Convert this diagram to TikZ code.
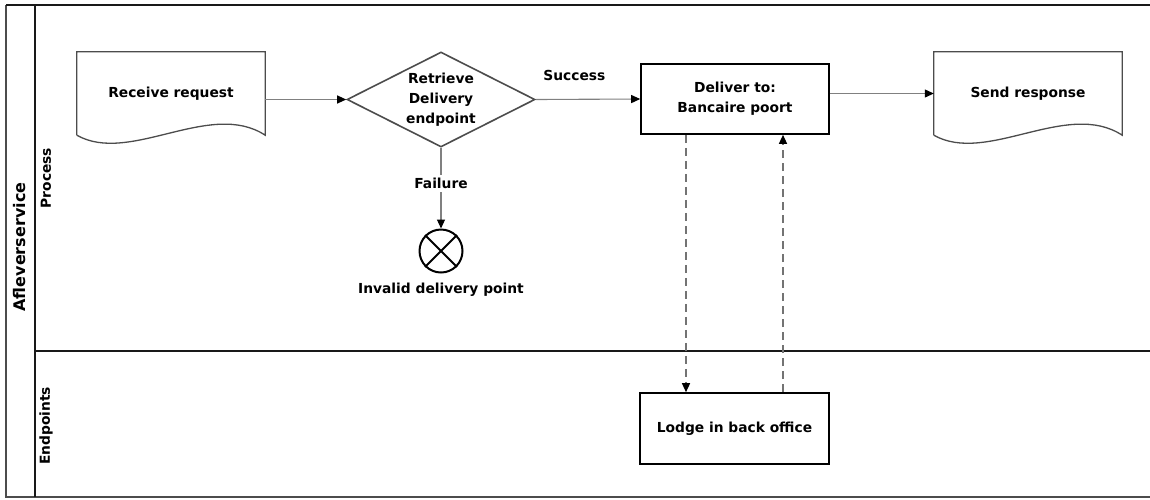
\documentclass[tikz,border=0pt]{standalone}
\usepackage{fontspec}
\setmainfont{DejaVu Sans}
\usetikzlibrary{shapes.geometric,arrows.meta,positioning}

\tikzset{
  lbl/.style={inner sep=0pt, font=\bfseries\fontsize{13.8}{20}\selectfont},
  docnode/.style={lbl, minimum width=188pt, minimum height=83pt},
  docline/.style={draw=black!70, line width=1.3pt},
  decision/.style={lbl, diamond, aspect=2, draw=black!70, line width=1.6pt, minimum width=188pt, minimum height=95pt, align=center},
  task/.style={lbl, draw=black, line width=1.6pt, minimum width=188pt, minimum height=70pt, align=center},
  endev/.style={circle, draw=black, line width=2pt, minimum size=43pt, inner sep=0pt},
  flow/.style={draw=black!50, line width=1.1pt, -{Triangle[length=9pt,width=8pt,color=black]}},
  msg/.style={flow, draw=black!55, line width=1.3pt, dash pattern=on 8pt off 5pt},
  pool/.style={line width=1.8pt, draw=black!90}
}

\begin{document}
\begin{tikzpicture}[x=1pt,y=-1pt]
	\useasboundingbox (0,0) rectangle (1150,499);
	\begin{scope}
	  % pool e lanes
	  \draw[line width=1.3pt, draw=black!70] (6,5) -- (6,497) -- (1150,497);
	  \draw[pool] (6,5) -- (1150,5);
	  \draw[pool] (35,5) -- (35,497);
	  \draw[pool] (35,351) -- (1150,351);
	  \node[lbl, font=\bfseries\fontsize{16}{18}\selectfont, rotate=90] (pooltitle) at (20,247) {Afleverservice};
	  \node[lbl, rotate=90] (laneproc) at (46,178) {Process};
	  \node[lbl, rotate=90] (laneend) at (46,426) {Endpoints};

	  \node[docnode] (recv) at (171,93.5) {Receive request};
	  \node[decision] (dia) at (441,99.5) {Retrieve\\Delivery\\endpoint};
	  \node[task] (deliver) at (735,99) {Deliver to:\\Bancaire poort};
	  \node[docnode] (send) at (1028,93.5) {Send response};
	  \node[endev] (fail) at (441,251) {};
	  \node[lbl, below=9pt of fail] (faillbl) {Invalid delivery point};
	  \node[task, minimum width=189pt, minimum height=71pt] (lodge) at (734.5,428.5) {Lodge in back office};

	  % documenti con bordo ondulato
	  \foreach \d in {recv,send}
	    \draw[docline] (\d.south west) -- (\d.north west) -- (\d.north east) -- (\d.south east)
	      .. controls +(-55,-36) and +(53,30) .. (\d.south west);

	  \draw[line width=2pt] (fail.north west) -- (fail.south east);
	  \draw[line width=2pt] (fail.north east) -- (fail.south west);

	  \draw[flow] (dia.west -| recv.east) -- (dia.west);
	  \draw[flow] (dia.east) -- node[lbl, pos=.37, above=18pt] {Success} (deliver.west);
	  \draw[flow] (dia.south) -- node[lbl, pos=.44, fill=white, inner sep=3pt] {Failure} (fail.north);
	  \draw[flow] (deliver.east |- send.west) -- (send.west);

	  \draw[msg] ([xshift=-49pt]deliver.south) -- ([xshift=-49pt]deliver.south |- lodge.north);
	  \draw[msg] ([xshift=48pt]deliver.south |- lodge.north) -- ([xshift=48pt]deliver.south);
	\end{scope}
\end{tikzpicture}
\end{document}
